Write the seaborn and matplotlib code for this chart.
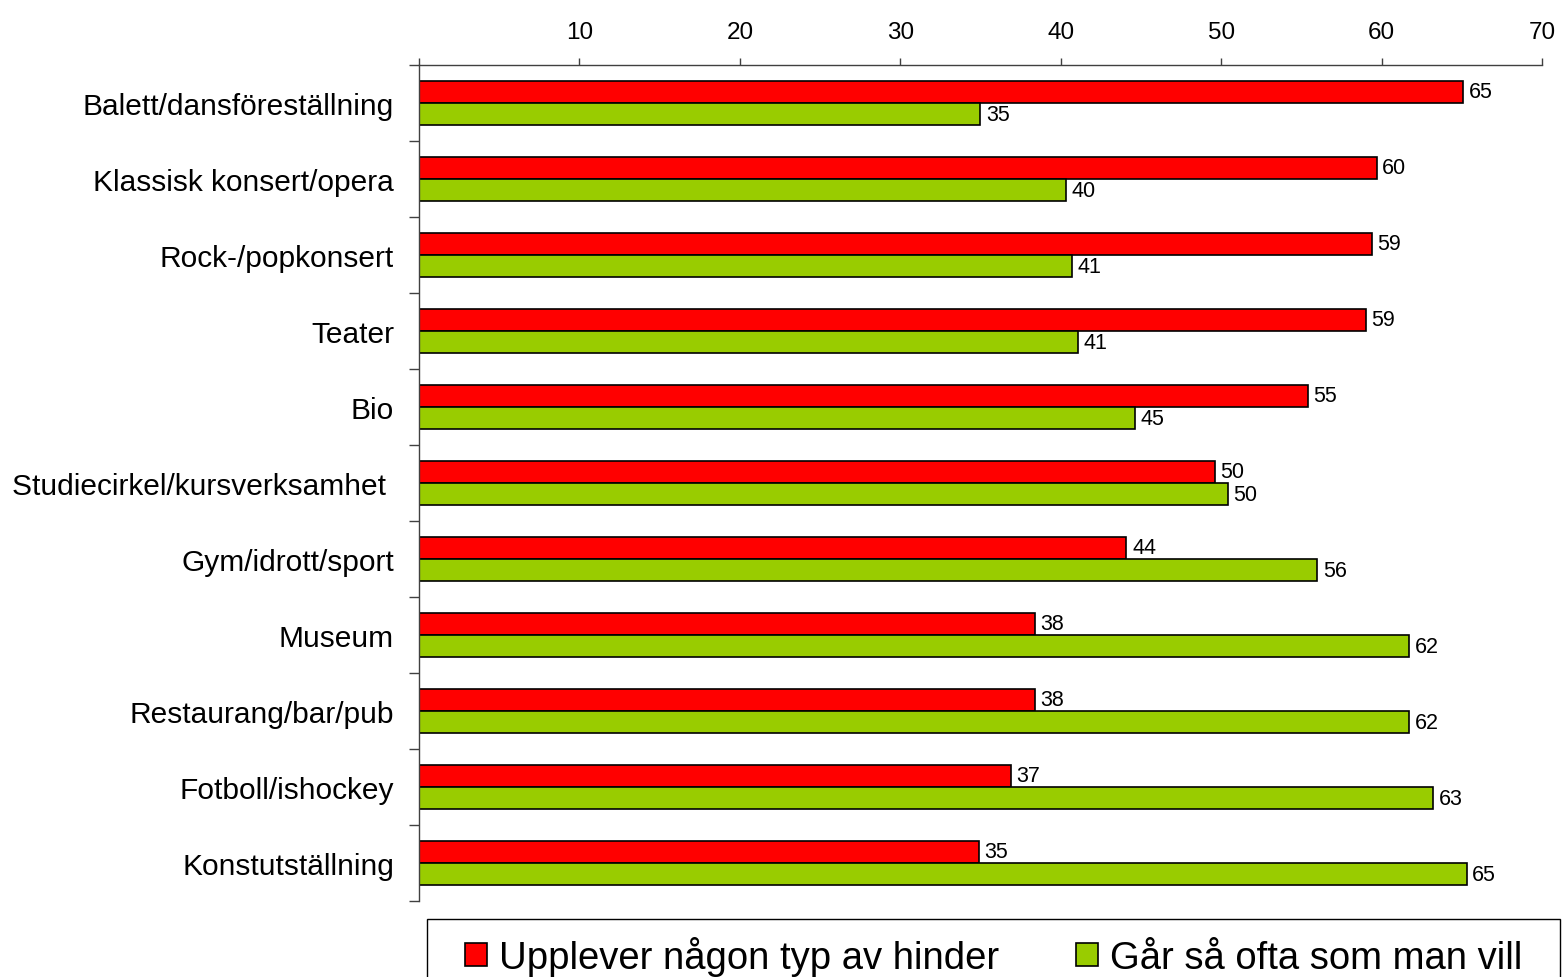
import matplotlib
import numpy as np
import pandas as pd
import seaborn as sns

matplotlib.use('Agg')
import matplotlib.pyplot as plt
from matplotlib.patches import Rectangle
from matplotlib.ticker import FixedLocator

# Data (percent)
categories = ['Balett/dansföreställning', 'Klassisk konsert/opera', 'Rock-/popkonsert',
              'Teater', 'Bio', 'Studiecirkel/kursverksamhet ', 'Gym/idrott/sport',
              'Museum', 'Restaurang/bar/pub', 'Fotboll/ishockey', 'Konstutställning']
hinder = [65.1, 59.7, 59.4, 59.0, 55.4, 49.6, 44.1, 38.4, 38.4, 36.9, 34.9]
ofta = [35.0, 40.3, 40.7, 41.1, 44.6, 50.4, 56.0, 61.7, 61.7, 63.2, 65.3]
series = ['Upplever någon typ av hinder', 'Går så ofta som man vill']
colors = ['#FF0000', '#99CC00']
x_ticks = [0, 10, 20, 30, 40, 50, 60, 70]

df = pd.DataFrame({
    'kategori': categories * 2,
    'serie': [series[0]] * len(categories) + [series[1]] * len(categories),
    'varde': hinder + ofta,
})

sns.set_style('white')
plt.rcParams['font.family'] = ['Liberation Sans', 'DejaVu Sans']
plt.rcParams['text.color'] = 'black'
plt.rcParams['xtick.labelcolor'] = 'black'
plt.rcParams['ytick.labelcolor'] = 'black'

fig = plt.figure(figsize=(15.62, 9.78), dpi=100)
ax = fig.add_axes([419 / 1562, 1 - 902 / 978, (1542 - 419) / 1562, (902 - 66) / 978])

sns.barplot(data=df, y='kategori', x='varde', hue='serie', palette=colors,
            orient='h', width=0.58, edgecolor='black', linewidth=1.2,
            saturation=1, ax=ax, legend=False)

# value labels
for cont in ax.containers:
    vals = cont.datavalues
    ax.bar_label(cont, labels=[f'{v:.0f}' for v in vals], padding=4,
                 fontsize=15.5, color='black')

ax.set_xlim(0, 70)
ax.set_ylim(len(categories) - 0.5, -0.5)
ax.set_xlabel('')
ax.set_ylabel('')

# x axis on top
ax.xaxis.tick_top()
ax.set_xticks(x_ticks)
ax.set_xticklabels([''] + [str(t) for t in x_ticks[1:]])
ax.tick_params(axis='x', which='major', direction='out', length=5, width=1,
               color='#404040', labelsize=17.5, pad=11, top=True, bottom=False,
               labelcolor='black')

# category ticks between groups
ax.yaxis.set_minor_locator(FixedLocator(np.arange(-0.5, len(categories), 1)))
ax.tick_params(axis='y', which='major', length=0, labelsize=21.5, pad=18,
               labelcolor='black')
ax.tick_params(axis='y', which='minor', direction='out', length=7, width=1,
               color='#404040', left=True)

for side in ['right', 'bottom']:
    ax.spines[side].set_visible(False)
for side in ['top', 'left']:
    ax.spines[side].set_color('#404040')
    ax.spines[side].set_linewidth(1)

# legend at bottom, frame drawn separately
handles = [plt.Rectangle((0, 0), 1, 1, facecolor=c, edgecolor='black', linewidth=1.2)
           for c in colors]
leg = fig.legend(handles, series, loc='center left', ncol=2,
                 bbox_to_anchor=(465 / 1562, 1 - 957 / 978),
                 fontsize=27.5, frameon=False, borderpad=0, borderaxespad=0,
                 handlelength=0.58, handleheight=0.58, handletextpad=0.32,
                 columnspacing=2.0)
fig.add_artist(Rectangle((427 / 1562, -0.05), (1560 - 427) / 1562, 0.05 + 1 - 920 / 978,
                         transform=fig.transFigure, fill=False,
                         edgecolor='black', linewidth=1))

plt.savefig('out.png', dpi=100)
plt.close()
